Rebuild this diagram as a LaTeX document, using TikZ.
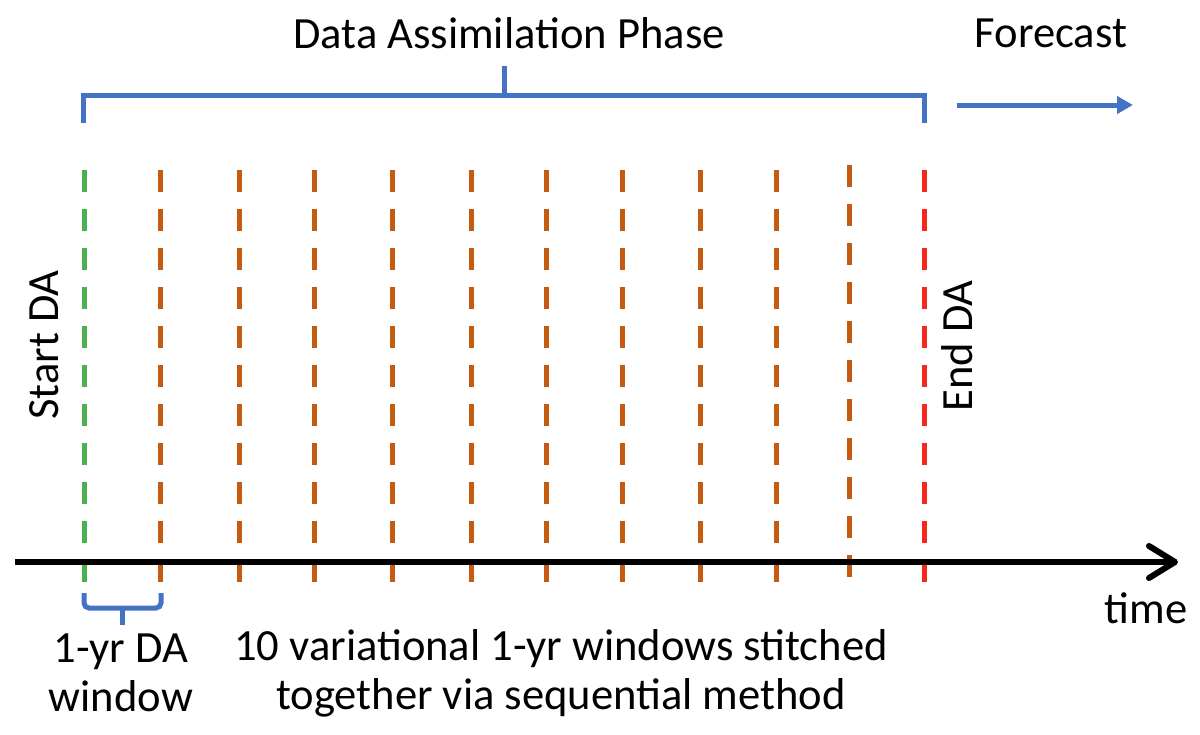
\documentclass[tikz,border=0pt]{standalone}
\usepackage{fontspec}
\setmainfont{Carlito}
\usetikzlibrary{arrows.meta}
\definecolor{dablue}{HTML}{4472C4}
\definecolor{dagreen}{HTML}{4CAF50}
\definecolor{dabrown}{HTML}{C55A11}
\definecolor{dared}{HTML}{F5281E}
\tikzset{
  lbl/.style={font=\fontsize{44.6}{49}\selectfont, inner sep=0pt, align=center},
  bracket/.style={draw=dablue, line width=5pt},
  winline/.style={line width=5pt, dash pattern=on 22pt off 17pt},
}
\begin{document}
\begin{tikzpicture}[x=1pt,y=-1pt]
\useasboundingbox (0,0) rectangle (1200,734);
% labels
\node[lbl] (title) at (509,33) {Data Assimilation Phase};
\node[lbl] (fc) at (1051,33) {Forecast};
\node[lbl, rotate=90] (start) at (44,345) {Start DA};
\node[lbl, rotate=90] (end) at (957,346) {End DA};
\node[lbl] (time) at (1146,608) {time};
\node[lbl] (win) at (121,673) {1-yr DA\\window};
\node[lbl] (stitch) at (561,673) {10 variational 1-yr windows stitched\\together via sequential method};
% top bracket
\coordinate (tl) at (83,123);
\coordinate (tr) at (924,123);
\coordinate (tm) at (504,66);
\draw[bracket] (tl) |- (504,95) -| (tr);
\draw[bracket] (tm) -- (504,95);
% forecast arrow
\coordinate (fa) at (957,105);
\coordinate (fb) at (1133,105);
\draw[draw=dablue, line width=5pt, -{Triangle[length=16pt,width=17pt]}] (fa) -- (fb);
% window lines
\coordinate (g1) at (84,170); \coordinate (g2) at (84,584);
\draw[winline, dagreen] (g1) -- (g2);
\foreach \x/\s in {160/170,239/170,314/170,392/170,471/170,546/170,622/170,700/170,776/170,849/165}{
  \draw[winline, dabrown] (\x,\s) -- (\x,584);
}
\coordinate (r1) at (924,170); \coordinate (r2) at (924,584);
\draw[winline, dared] (r1) -- (r2);
% time axis
\coordinate (ax0) at (15,562);
\coordinate (ax1) at (1178,562);
\draw[line width=6pt, -{Straight Barb[length=26pt,width=32pt,round]}] (ax0) -- (ax1);
% small bracket
\coordinate (b1) at (84,593);
\coordinate (b2) at (161,593);
\draw[bracket, rounded corners=5pt] (b1) |- (122,608) -| (b2);
\draw[bracket] (122,606) -- (122,625);
\end{tikzpicture}
\end{document}
